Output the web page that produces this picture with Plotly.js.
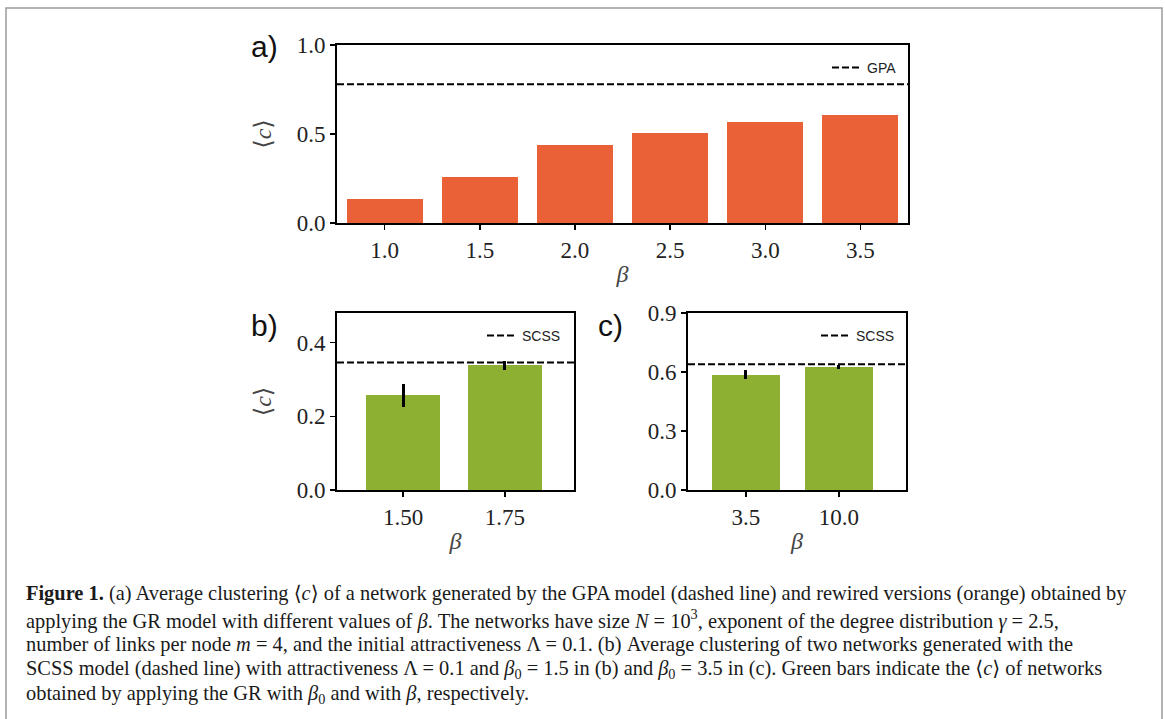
<!DOCTYPE html>
<html>
<head>
<meta charset="utf-8">
<script src="https://cdn.plot.ly/plotly-3.0.1.min.js"></script>
<style>
html,body{margin:0;padding:0;background:#fff;}
#chart{width:1165px;height:719px;}
</style>
</head>
<body>
<div id="chart"></div>
<script>
// ---- data ----
const betaA = ['1.0', '1.5', '2.0', '2.5', '3.0', '3.5'];
const clustA = [0.137, 0.261, 0.441, 0.508, 0.570, 0.604];
const gpaA = 0.779;

const betaB = ['1.50', '1.75'];
const clustB = [0.257, 0.338];
const errB = [0.031, 0.013];
const scssB = 0.346;

const betaC = ['3.5', '10.0'];
const clustC = [0.586, 0.627];
const errC = [0.023, 0.011];
const scssC = 0.640;

const yTicksA = [0.0, 0.5, 1.0];
const yTicksB = [0.0, 0.2, 0.4];
const yTicksC = [0.0, 0.3, 0.6, 0.9];

const captionLines = [
  '<b>Figure 1.</b> (a) Average clustering ⟨<i>c</i>⟩ of a network generated by the GPA model (dashed line) and rewired versions (orange) obtained by',
  'applying the GR model with different values of <i>β</i>. The networks have size <i>N</i> = 10<sup>3</sup>, exponent of the degree distribution <i>γ</i> = 2.5,',
  'number of links per node <i>m</i> = 4, and the initial attractiveness Λ = 0.1. (b) Average clustering of two networks generated with the',
  'SCSS model (dashed line) with attractiveness Λ = 0.1 and <i>β</i><sub>0</sub> = 1.5 in (b) and <i>β</i><sub>0</sub> = 3.5 in (c). Green bars indicate the ⟨<i>c</i>⟩ of networks',
  'obtained by applying the GR with <i>β</i><sub>0</sub> and with <i>β</i>, respectively.'
];

// ---- styling ----
const W = 1165, H = 719;
const px = v => v / W;
const py = v => 1 - v / H;
const ORANGE = '#EB6137';
const GREEN = '#8DB032';
const SERIF = 'Liberation Serif, DejaVu Serif, serif';
const SANS = 'Liberation Sans, Arial, sans-serif';

const idx = arr => arr.map((_, i) => i);

function xAxis(domain, cats, range) {
  return {
    domain: domain, range: range, tickvals: idx(cats), ticktext: cats,
    showline: true, mirror: true, linecolor: '#000', linewidth: 2,
    ticks: 'outside', ticklen: 5, tickwidth: 1.5, tickcolor: '#000',
    showgrid: false, zeroline: false, fixedrange: true,
    tickfont: {family: SERIF, size: 23, color: '#222'},
    title: {text: '<i>β</i>', font: {family: SERIF, size: 24, color: '#444'}, standoff: 4}
  };
}
function yAxis(domain, range, ticks, withTitle) {
  const a = {
    domain: domain, range: range, tickvals: ticks, ticktext: ticks.map(t => t.toFixed(1)),
    showline: true, mirror: true, linecolor: '#000', linewidth: 2,
    ticks: 'outside', ticklen: 5, tickwidth: 1.5, tickcolor: '#000',
    showgrid: false, zeroline: false, fixedrange: true,
    tickfont: {family: SERIF, size: 23, color: '#222'}
  };
  if (withTitle) a.title = {text: '⟨<i>c</i>⟩', font: {family: SERIF, size: 24, color: '#444'}, standoff: 18};
  return a;
}

const rangeA = [-0.5, 5.5];
const rangeB = [-0.65, 1.68];
const rangeC = [-0.62, 1.72];

const traces = [
  {type: 'bar', x: idx(betaA), y: clustA, width: 0.8, marker: {color: ORANGE},
   xaxis: 'x', yaxis: 'y', showlegend: false, hoverinfo: 'skip'},
  {type: 'scatter', mode: 'lines', x: rangeA, y: [gpaA, gpaA], name: 'GPA',
   line: {color: '#000', width: 2, dash: '7px,3px'}, xaxis: 'x', yaxis: 'y', legend: 'legend', showlegend: true},

  {type: 'bar', x: idx(betaB), y: clustB, width: 0.73, marker: {color: GREEN},
   error_y: {type: 'data', array: errB, visible: true, color: '#000', thickness: 3, width: 0},
   xaxis: 'x2', yaxis: 'y2', showlegend: false, hoverinfo: 'skip'},
  {type: 'scatter', mode: 'lines', x: rangeB, y: [scssB, scssB], name: 'SCSS',
   line: {color: '#000', width: 2, dash: '7px,3px'}, xaxis: 'x2', yaxis: 'y2', legend: 'legend2', showlegend: true},

  {type: 'bar', x: idx(betaC), y: clustC, width: 0.73, marker: {color: GREEN},
   error_y: {type: 'data', array: errC, visible: true, color: '#000', thickness: 3, width: 0},
   xaxis: 'x3', yaxis: 'y3', showlegend: false, hoverinfo: 'skip'},
  {type: 'scatter', mode: 'lines', x: rangeC, y: [scssC, scssC], name: 'SCSS',
   line: {color: '#000', width: 2, dash: '7px,3px'}, xaxis: 'x3', yaxis: 'y3', legend: 'legend3', showlegend: true}
];

const legendStyle = (x, y) => ({
  x: x, y: y, xanchor: 'right', yanchor: 'top', xref: 'paper', yref: 'paper',
  bgcolor: 'rgba(0,0,0,0)', borderwidth: 0,
  font: {family: SANS, size: 14, color: '#222'}, itemwidth: 30
});

const annotations = [
  {text: 'a)', x: px(249), y: py(46), xref: 'paper', yref: 'paper', xanchor: 'left', yanchor: 'middle',
   showarrow: false, font: {family: SANS, size: 30, color: '#111'}},
  {text: 'b)', x: px(249), y: py(325), xref: 'paper', yref: 'paper', xanchor: 'left', yanchor: 'middle',
   showarrow: false, font: {family: SANS, size: 30, color: '#111'}},
  {text: 'c)', x: px(596), y: py(325), xref: 'paper', yref: 'paper', xanchor: 'left', yanchor: 'middle',
   showarrow: false, font: {family: SANS, size: 30, color: '#111'}}
];
const lineY = [593, 619, 644, 669, 694];
captionLines.forEach((t, i) => {
  annotations.push({text: t, x: px(24), y: py(lineY[i]), xref: 'paper', yref: 'paper',
    xanchor: 'left', yanchor: 'middle', showarrow: false, align: 'left',
    font: {family: SERIF, size: 20.4, color: '#1a1a1a'}});
});

const layout = {
  width: W, height: H, margin: {l: 0, r: 0, t: 0, b: 0},
  paper_bgcolor: '#fff', plot_bgcolor: '#fff',
  bargap: 0,
  xaxis: xAxis([px(337), px(908)], betaA, rangeA),
  yaxis: yAxis([py(223), py(45)], [0, 1.0], yTicksA, true),
  xaxis2: Object.assign(xAxis([px(337), px(574)], betaB, rangeB), {anchor: 'y2'}),
  yaxis2: Object.assign(yAxis([py(490), py(313)], [0, 0.48], yTicksB, true), {anchor: 'x2'}),
  xaxis3: Object.assign(xAxis([px(688), px(906)], betaC, rangeC), {anchor: 'y3'}),
  yaxis3: Object.assign(yAxis([py(490), py(313)], [0, 0.9], yTicksC, false), {anchor: 'x3'}),
  legend: legendStyle(px(902), py(52)),
  legend2: legendStyle(px(566), py(320)),
  legend3: legendStyle(px(900), py(320)),
  annotations: annotations,
  shapes: [
    {type: 'rect', xref: 'paper', yref: 'paper', x0: px(6), x1: px(1162), y0: py(730), y1: py(8),
     line: {color: '#9a9a9a', width: 1.5}, fillcolor: 'rgba(0,0,0,0)'}
  ]
};
layout.yaxis.anchor = 'x';
layout.xaxis.anchor = 'y';

Plotly.newPlot('chart', traces, layout, {displayModeBar: false, staticPlot: true});
</script>
</body>
</html>
